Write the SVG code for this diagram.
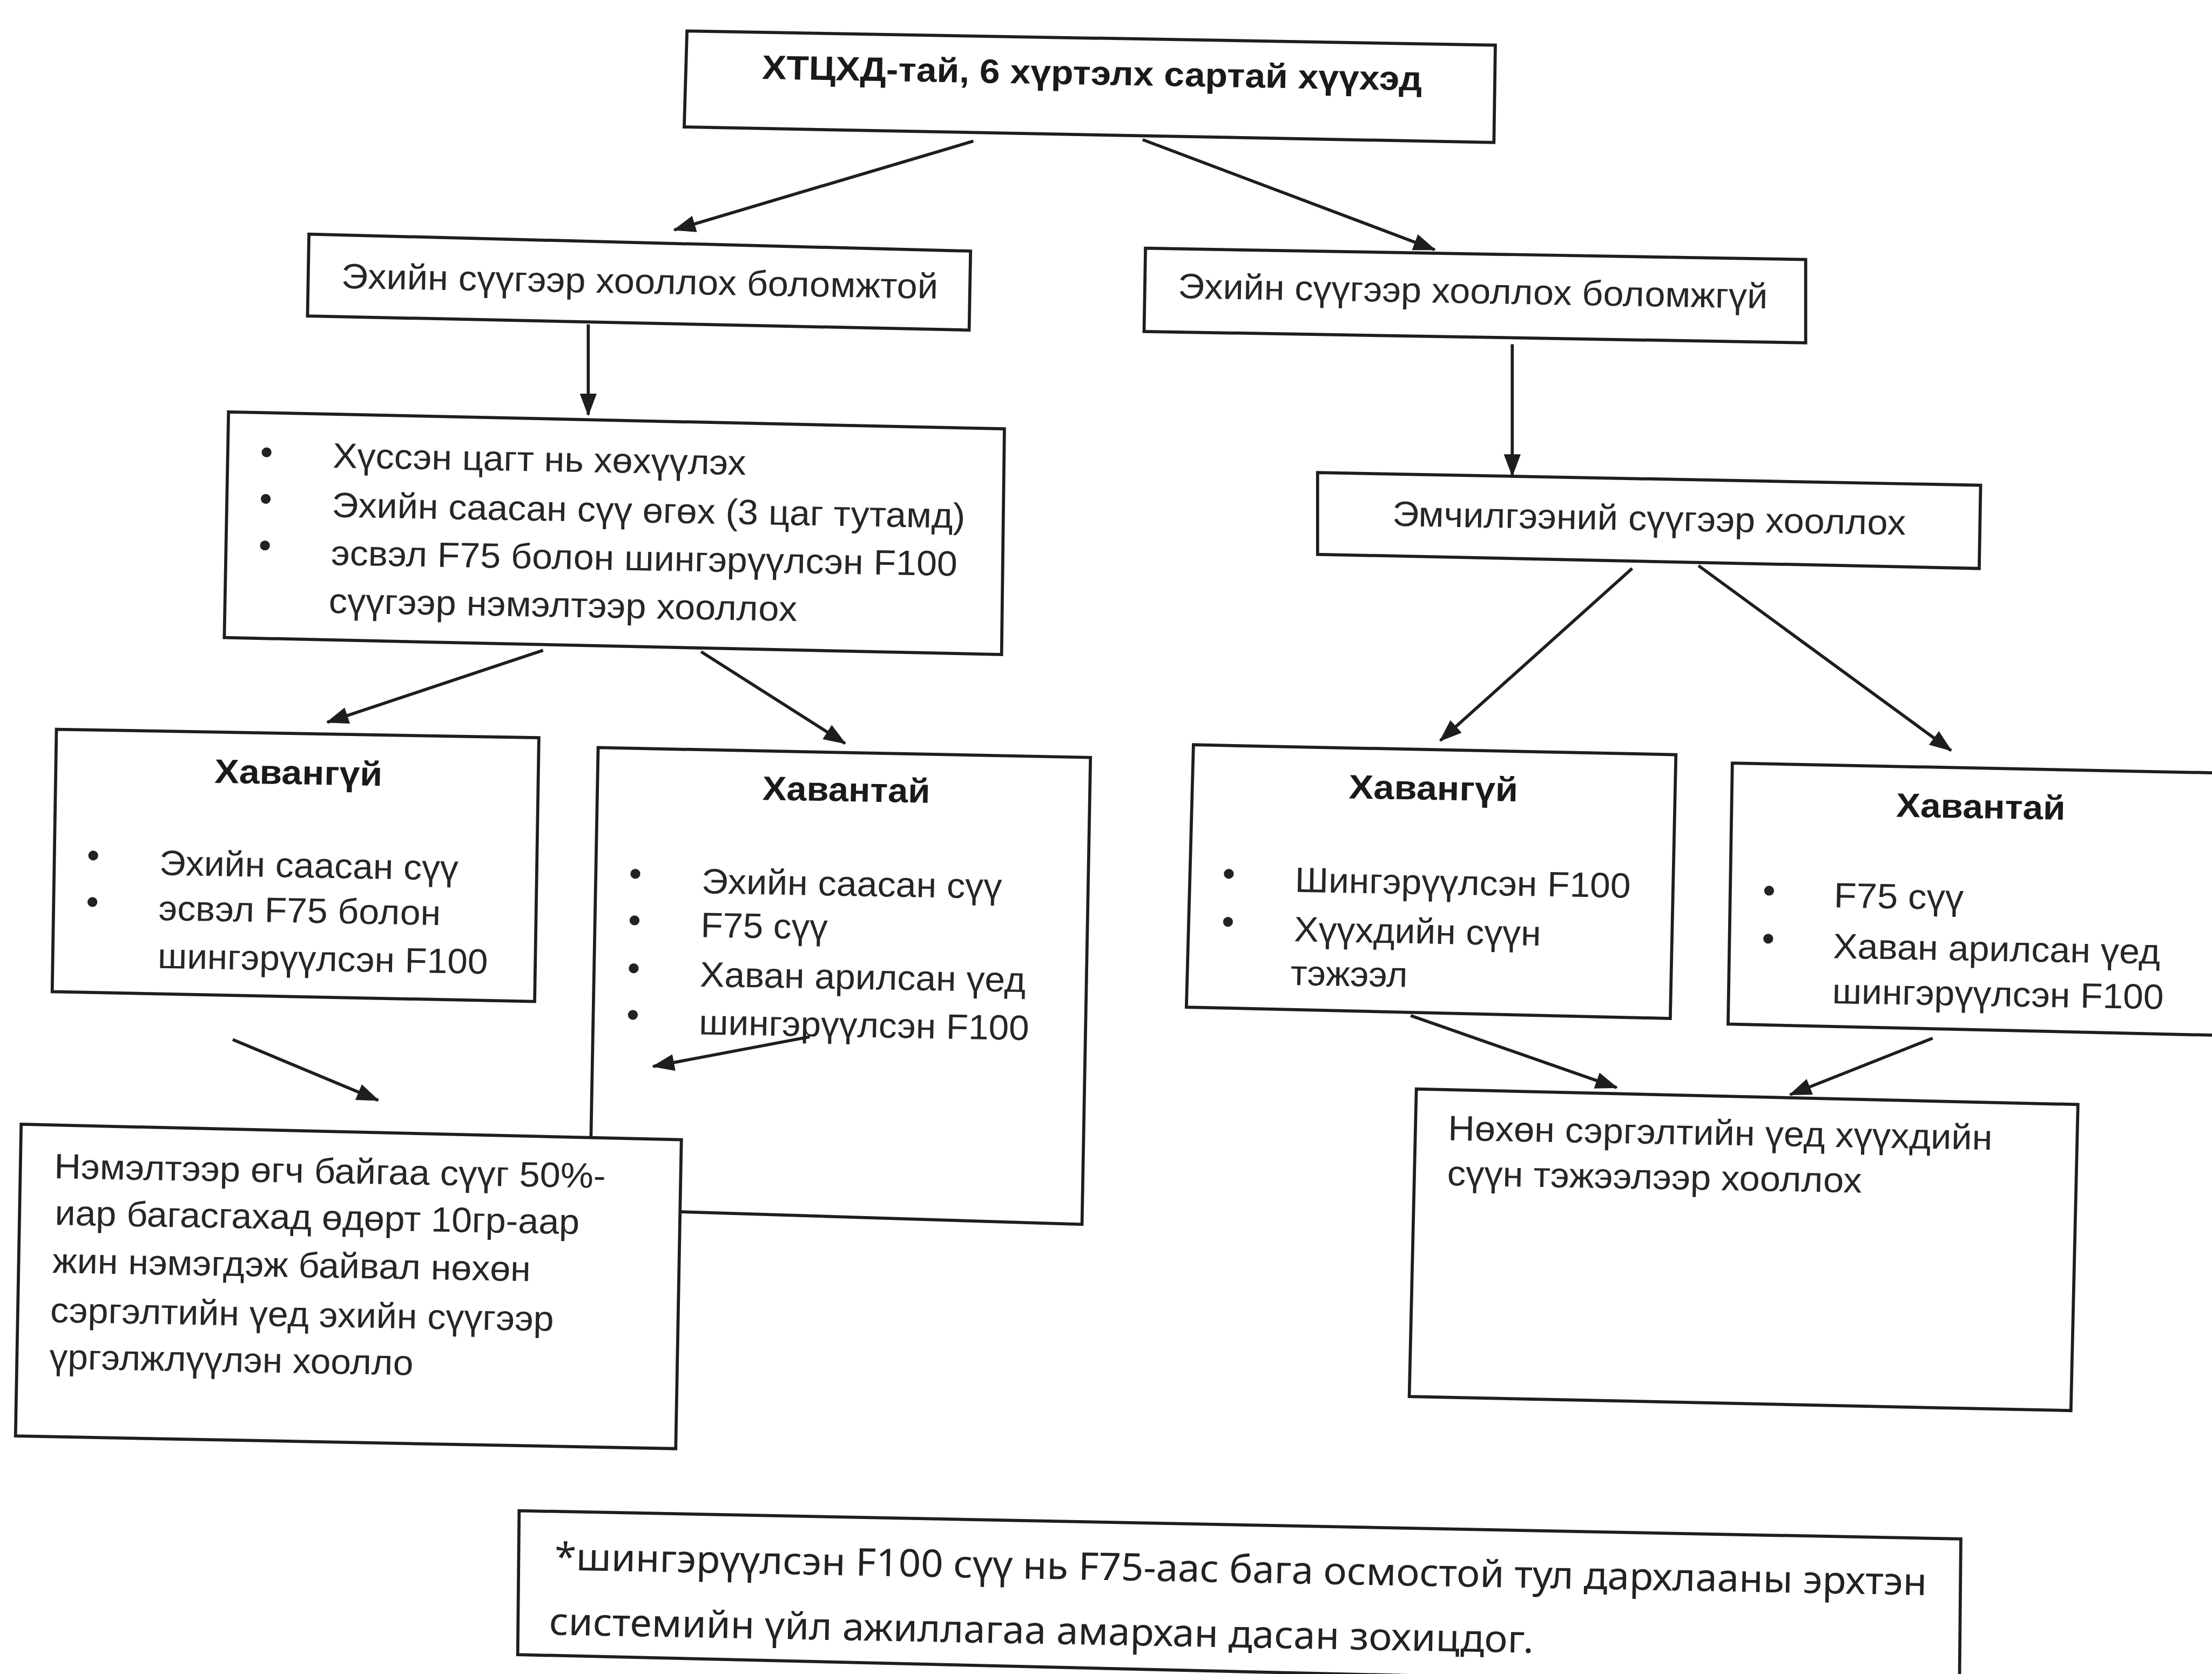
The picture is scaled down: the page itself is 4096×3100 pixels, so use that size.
<svg xmlns="http://www.w3.org/2000/svg" width="4096" height="3100" viewBox="0 0 4096 3100">
<defs>
<style>
.box{fill:#fff;stroke:#1e1e1e;stroke-width:2.2;stroke-linejoin:miter}
.t{font-family:"Liberation Sans Narrow","Liberation Sans",Arial,sans-serif;font-size:25px;fill:#262626}
.b{font-family:"Liberation Sans Narrow","Liberation Sans",Arial,sans-serif;font-size:24px;font-weight:bold;fill:#1a1a1a}
.f{font-family:"Noto Sans","Open Sans",sans-serif;font-size:27px;fill:#222}
.dot{fill:#222}
.c{stroke:#1e1e1e;stroke-width:2.2;fill:none;marker-end:url(#ah)}
</style>
<marker id="ah" markerUnits="userSpaceOnUse" viewBox="0 0 16 12" markerWidth="16" markerHeight="12" refX="15" refY="6" orient="auto">
<path d="M0,0 L16,6 L0,12 z" fill="#1e1e1e"/>
</marker>
</defs>
<rect width="4096" height="3100" fill="#fff"/>
<g transform="scale(2.6122)">
<g id="n-top">
<polygon class="box" points="487,22 1060,32 1059,101 485,90"/>
<g transform="rotate(1 773 61)">
<text class="b" x="540" y="60" textLength="468" lengthAdjust="spacingAndGlyphs">ХТЦХД-тай, 6 хүртэлх сартай хүүхэд</text>
</g>
</g>
<g id="n-possible">
<polygon class="box" points="219,166 688,178 687,234 218,224"/>
<g transform="rotate(1 453 200)">
<text class="t" x="242" y="208" textLength="423" lengthAdjust="spacingAndGlyphs">Эхийн сүүгээр хооллох боломжтой</text>
</g>
</g>
<g id="n-impossible">
<polygon class="box" points="812,176 1280,184 1280,243 811,235"/>
<g transform="rotate(1 1045 210)">
<text class="t" x="835" y="215" textLength="418" lengthAdjust="spacingAndGlyphs">Эхийн сүүгээр хооллох боломжгүй</text>
</g>
</g>
<g id="n-bf-list">
<polygon class="box" points="162,292 712,304 710,464 159,452"/>
<g transform="rotate(1 435 378)">
<circle class="dot" cx="188" cy="325" r="3.5"/>
<circle class="dot" cx="188" cy="358" r="3.5"/>
<circle class="dot" cx="188" cy="391" r="3.5"/>
<text class="t" x="235" y="335" textLength="293" lengthAdjust="spacingAndGlyphs">Хүссэн цагт нь хөхүүлэх</text>
<text class="t" x="235" y="370" textLength="449" lengthAdjust="spacingAndGlyphs">Эхийн саасан сүү өгөх (3 цаг тутамд)</text>
<text class="t" x="235" y="404" textLength="444" lengthAdjust="spacingAndGlyphs">эсвэл F75 болон шингэрүүлсэн F100</text>
<text class="t" x="234" y="438" textLength="332" lengthAdjust="spacingAndGlyphs">сүүгээр нэмэлтээр хооллох</text>
</g>
</g>
<g id="n-therapeutic">
<polygon class="box" points="934,335 1404,344 1403,403 934,393"/>
<g transform="rotate(1 1169 369)">
<text class="t" x="987" y="376" textLength="364" lengthAdjust="spacingAndGlyphs">Эмчилгээний сүүгээр хооллох</text>
</g>
</g>
<g id="n-left-edema">
<polygon class="box" points="424,530 773,537 767,868 418,857"/>
<g transform="rotate(1 595 700)">
<text class="b" x="538" y="568" textLength="119" lengthAdjust="spacingAndGlyphs">Хавантай</text>
<circle class="dot" cx="449" cy="622" r="3.5"/>
<circle class="dot" cx="449" cy="655" r="3.5"/>
<circle class="dot" cx="449" cy="689" r="3.5"/>
<circle class="dot" cx="449" cy="722" r="3.5"/>
<text class="t" x="496" y="635" textLength="213" lengthAdjust="spacingAndGlyphs">Эхийн саасан сүү</text>
<text class="t" x="496" y="666" textLength="90" lengthAdjust="spacingAndGlyphs">F75 сүү</text>
<text class="t" x="496" y="701" textLength="231" lengthAdjust="spacingAndGlyphs">Хаван арилсан үед</text>
<text class="t" x="496" y="735" textLength="234" lengthAdjust="spacingAndGlyphs">шингэрүүлсэн F100</text>
</g>
</g>
<g id="n-left-noedema">
<polygon class="box" points="40,517 382,523 379,710 37,703"/>
<g transform="rotate(1 210 613)">
<text class="b" x="151" y="556" textLength="119" lengthAdjust="spacingAndGlyphs">Хавангүй</text>
<circle class="dot" cx="66" cy="609" r="3.5"/>
<circle class="dot" cx="66" cy="642" r="3.5"/>
<text class="t" x="113" y="622" textLength="212" lengthAdjust="spacingAndGlyphs">Эхийн саасан сүү</text>
<text class="t" x="113" y="654" textLength="200" lengthAdjust="spacingAndGlyphs">эсвэл F75 болон</text>
<text class="t" x="113" y="688" textLength="234" lengthAdjust="spacingAndGlyphs">шингэрүүлсэн F100</text>
</g>
</g>
<g id="n-reduce">
<polygon class="box" points="15,797 483,808 479,1027 11,1018"/>
<g transform="rotate(1 247 912)">
<text class="t" x="37" y="839" textLength="391" lengthAdjust="spacingAndGlyphs">Нэмэлтээр өгч байгаа сүүг 50%-</text>
<text class="t" x="38" y="872" textLength="372" lengthAdjust="spacingAndGlyphs">иар багасгахад өдөрт 10гр-аар</text>
<text class="t" x="37" y="906" textLength="339" lengthAdjust="spacingAndGlyphs">жин нэмэгдэж байвал нөхөн</text>
<text class="t" x="36" y="941" textLength="357" lengthAdjust="spacingAndGlyphs">сэргэлтийн үед эхийн сүүгээр</text>
<text class="t" x="36" y="974" textLength="258" lengthAdjust="spacingAndGlyphs">үргэлжлүүлэн хоолло</text>
</g>
</g>
<g id="n-right-noedema">
<polygon class="box" points="846,528 1188,535 1184,722 841,714"/>
<g transform="rotate(1 1015 625)">
<text class="b" x="955" y="567" textLength="120" lengthAdjust="spacingAndGlyphs">Хавангүй</text>
<circle class="dot" cx="871" cy="622" r="3.5"/>
<circle class="dot" cx="871" cy="656" r="3.5"/>
<text class="t" x="918" y="634" textLength="238" lengthAdjust="spacingAndGlyphs">Шингэрүүлсэн F100</text>
<text class="t" x="918" y="669" textLength="175" lengthAdjust="spacingAndGlyphs">Хүүхдийн сүүн</text>
<text class="t" x="916" y="700" textLength="83" lengthAdjust="spacingAndGlyphs">тэжээл</text>
</g>
</g>
<g id="n-right-edema">
<polygon class="box" points="1228,541 1575,548 1575,734 1225,726"/>
<g transform="rotate(1 1400 637)">
<text class="b" x="1343" y="580" textLength="120" lengthAdjust="spacingAndGlyphs">Хавантай</text>
<circle class="dot" cx="1254" cy="634" r="3.5"/>
<circle class="dot" cx="1254" cy="668" r="3.5"/>
<text class="t" x="1300" y="645" textLength="92" lengthAdjust="spacingAndGlyphs">F75 сүү</text>
<text class="t" x="1300" y="681" textLength="232" lengthAdjust="spacingAndGlyphs">Хаван арилсан үед</text>
<text class="t" x="1300" y="713" textLength="235" lengthAdjust="spacingAndGlyphs">шингэрүүлсэн F100</text>
</g>
</g>
<g id="n-recovery">
<polygon class="box" points="1004,772 1473,783 1468,1000 999,990"/>
<g transform="rotate(1 1236 886)">
<text class="t" x="1025" y="812" textLength="386" lengthAdjust="spacingAndGlyphs">Нөхөн сэргэлтийн үед хүүхдийн</text>
<text class="t" x="1025" y="844" textLength="294" lengthAdjust="spacingAndGlyphs">сүүн тэжээлээр хооллох</text>
</g>
</g>
<g id="n-footnote">
<polygon class="box" points="368,1071 1390,1091 1389,1197 367,1173"/>
<g transform="rotate(1.05 393 1113)">
<text class="f" x="393" y="1113" textLength="973" lengthAdjust="spacingAndGlyphs">*шингэрүүлсэн F100 сүү нь F75-аас бага осмостой тул дархлааны эрхтэн</text>
<text class="f" x="390" y="1159" textLength="698" lengthAdjust="spacingAndGlyphs">системийн үйл ажиллагаа амархан дасан зохицдог.</text>
</g>
</g>
<g id="connectors">
<line class="c" x1="690" y1="100" x2="478" y2="163"/>
<line class="c" x1="810" y1="99" x2="1017" y2="177"/>
<line class="c" x1="417" y1="230" x2="417" y2="294"/>
<line class="c" x1="1072" y1="244" x2="1072" y2="337"/>
<line class="c" x1="385" y1="461" x2="232" y2="512"/>
<line class="c" x1="497" y1="462" x2="599" y2="527"/>
<line class="c" x1="1157" y1="403" x2="1021" y2="525"/>
<line class="c" x1="1204" y1="401" x2="1383" y2="532"/>
<line class="c" x1="165" y1="737" x2="268" y2="780"/>
<line class="c" x1="574" y1="735" x2="463" y2="756"/>
<line class="c" x1="1000" y1="720" x2="1146" y2="771"/>
<line class="c" x1="1370" y1="736" x2="1269" y2="776"/>
</g>
</g>
</svg>
